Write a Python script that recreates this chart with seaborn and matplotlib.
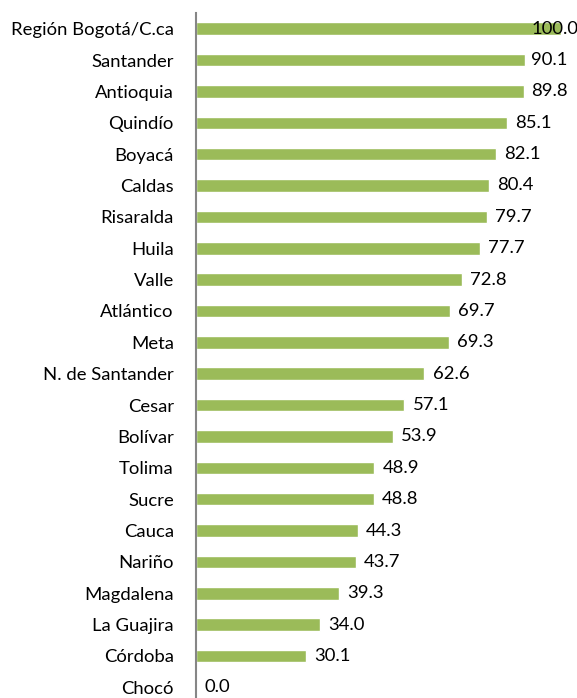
import matplotlib
matplotlib.use("Agg")
import matplotlib.pyplot as plt
import seaborn as sns
import pandas as pd

categories = ["Región Bogotá/C.ca", "Santander", "Antioquia", "Quindío", "Boyacá",
              "Caldas", "Risaralda", "Huila", "Valle", "Atlántico", "Meta",
              "N. de Santander", "Cesar", "Bolívar", "Tolima", "Sucre", "Cauca",
              "Nariño", "Magdalena", "La Guajira", "Córdoba", "Chocó"]
values = [100.0, 90.1, 89.8, 85.1, 82.1, 80.4, 79.7, 77.7, 72.8, 69.7, 69.3,
          62.6, 57.1, 53.9, 48.9, 48.8, 44.3, 43.7, 39.3, 34.0, 30.1, 0.0]

df = pd.DataFrame({"cat": categories, "val": values})

sns.set_theme(style="white")
plt.rcParams["font.family"] = ["Lato", "DejaVu Sans"]

fig = plt.figure(figsize=(5.77, 6.98), dpi=100)
ax = fig.add_axes([196/577, 1 - 703/698, (561-196)/577, (703-13)/698])

sns.barplot(data=df, x="val", y="cat", orient="h", color="#9BBB59",
            saturation=1, width=0.4, ax=ax)

ax.set_xlim(0, 100)
ax.set_ylim(len(categories) - 0.5, -0.5)
ax.set_xlabel("")
ax.set_ylabel("")
ax.set_xticks([])
ax.tick_params(axis="y", length=0, pad=16, labelsize=13.3, labelcolor="black")
for s in ["top", "right", "bottom"]:
    ax.spines[s].set_visible(False)
ax.spines["left"].set_color("#868686")
ax.spines["left"].set_linewidth(1.5)

for i, v in enumerate(values):
    x = min(v + 2.2, 91.8)
    ax.text(x, i, f"{v:.1f}", va="center", ha="left", fontsize=13.3,
            color="black", clip_on=False)

fig.savefig("out.png", dpi=100)
